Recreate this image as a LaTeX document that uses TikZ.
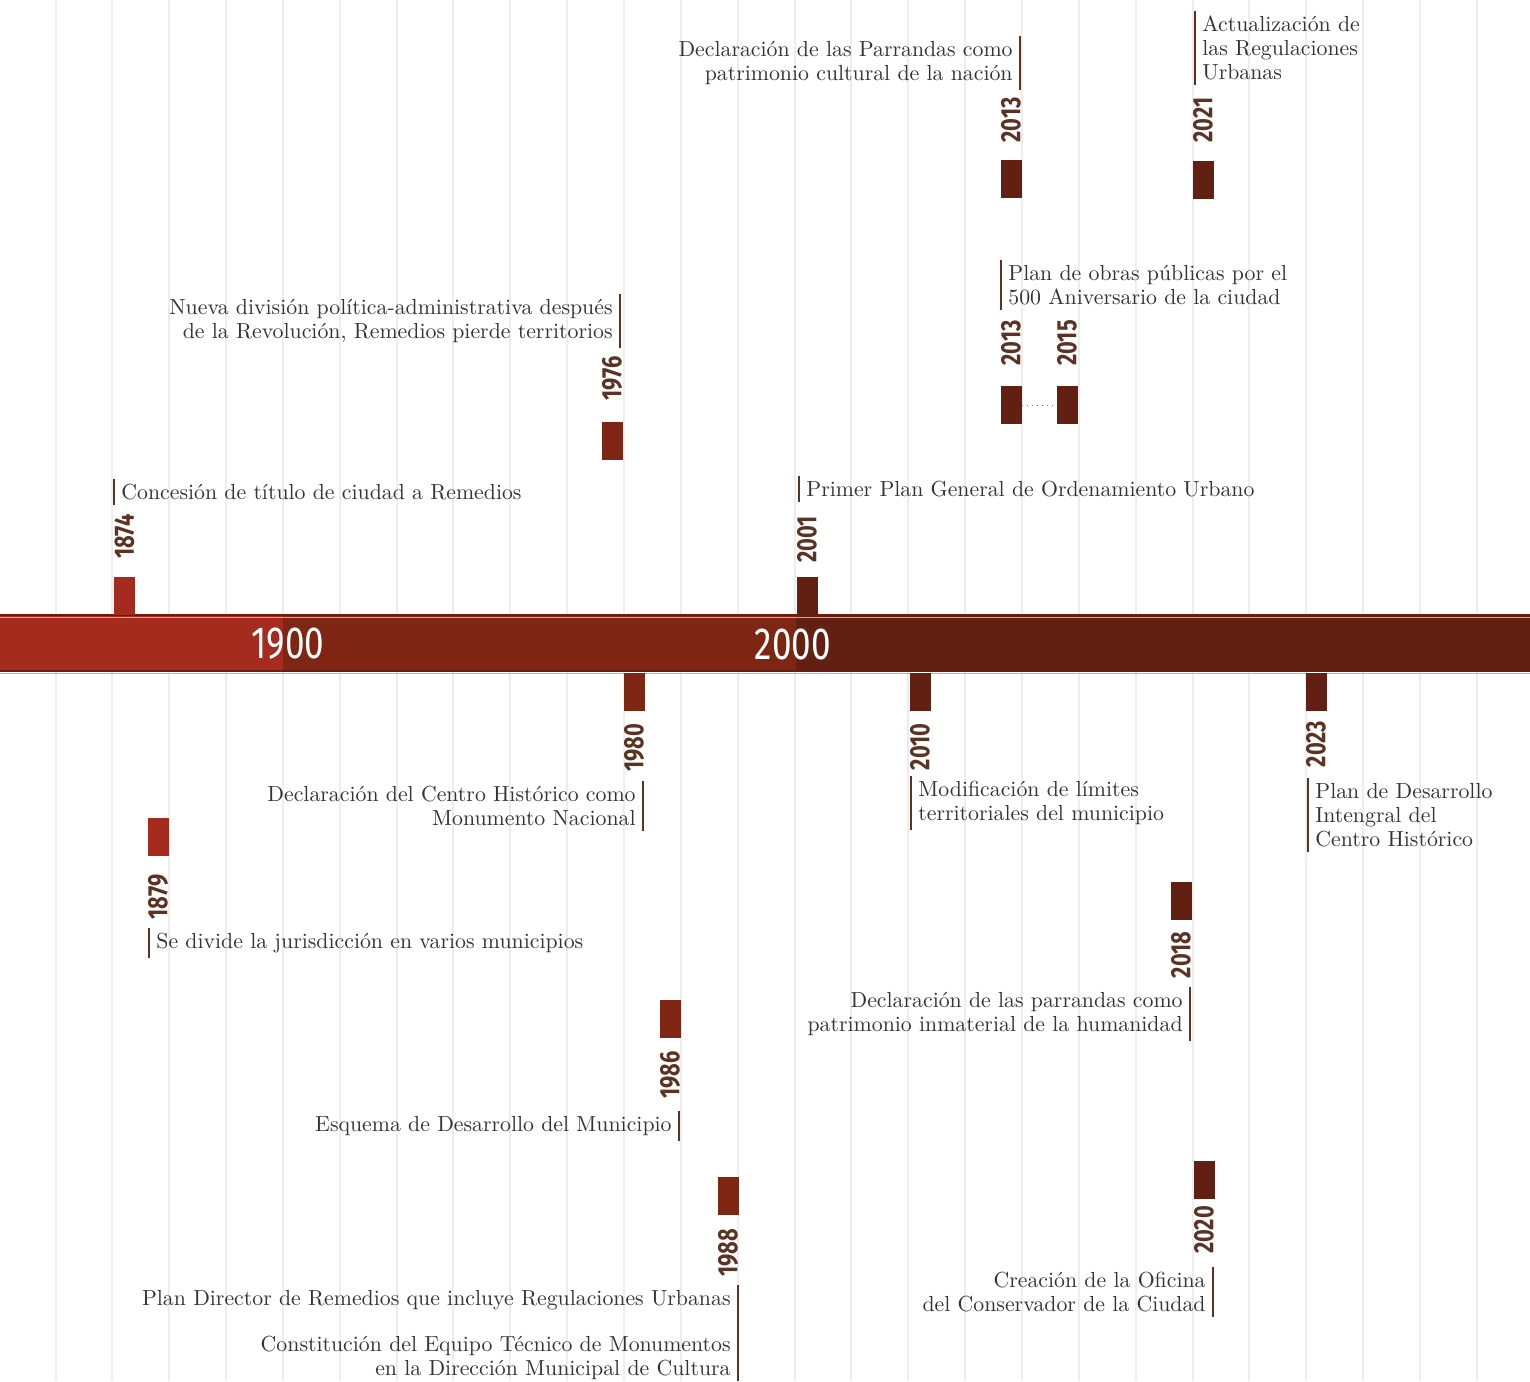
\documentclass[tikz,border=0pt]{standalone}
\usepackage{fontspec}
\usepackage{xcolor}
\usepackage{tikz}

\newfontfamily\yearfont[FakeStretch=0.78]{Fira Sans}

\definecolor{early}{HTML}{A42B1E}
\definecolor{middle}{HTML}{7F2513}
\definecolor{late}{HTML}{622013}
\definecolor{rim}{HTML}{6B1C10}
\definecolor{ink}{HTML}{333333}
\definecolor{lead}{HTML}{5A3323}
\definecolor{gridgray}{HTML}{EDEDED}

\begin{document}
\begin{tikzpicture}[x=0.5pt, y=-0.5pt,
		yearbox/.style={rectangle, inner sep=0pt, minimum width=10.5pt, minimum height=19pt},
		yearlbl/.style={rotate=90, inner sep=0pt, text=lead, font=\yearfont\bfseries\fontsize{14}{14}\selectfont},
		note/.style={inner xsep=3.5pt, inner ysep=2.5pt, text=ink, font=\fontsize{10.9}{12}\selectfont},
		noteL/.style={note, anchor=west, align=left},
		noteR/.style={note, anchor=east, align=right},
		leader/.style={draw=lead, line width=1.25pt},
		bigyear/.style={inner sep=0pt, text=white, font=\yearfont\fontsize{22.5}{22.5}\selectfont}
	]
		\useasboundingbox[fill=white] (0,0) rectangle (1530,1381);

		\foreach \k in {0,...,26} {
				\draw[gridgray, line width=1pt] (55.5+\k*56.85,0) -- (55.5+\k*56.85,1381);
			}

		% the bar
		\fill[early] (0,614) rectangle (283,672);
		\fill[middle] (283,614) rectangle (796,672);
		\fill[late] (796,614) rectangle (1530,672);
		\draw[rim, line width=1pt] (0,615) -- (1530,615);
		\draw[rim, line width=1pt] (0,671) -- (1530,671);
		\draw[gray!60, line width=0.4pt] (0,617) -- (1530,617);
		\draw[gray!60, line width=0.4pt] (0,673) -- (1530,673);

		\node[bigyear] (C1900) at (288,644) {1900};
		\node[bigyear] (C2000) at (793,644) {2000};

		% above the bar
		\node[yearbox, fill=early] (B1874) at (124.5,595.5) {};
		\node[yearlbl] (Y1874) at (124.5,536.5) {1874};
		\node[noteL] (N1874) at (114,492) {Concesión de título de ciudad a Remedios};
		\draw[leader] (N1874.north west) -- (N1874.south west);

		\node[yearbox, fill=middle] (B1976) at (612.5,441) {};
		\node[yearlbl] (Y1976) at (612,378.5) {1976};
		\node[noteR] (N1976) at (620,321) {Nueva división política-administrativa después\\de la Revolución, Remedios pierde territorios};
		\draw[leader] (N1976.north east) -- (N1976.south east);

		\node[yearbox, fill=late] (B2001) at (807.5,595.5) {};
		\node[yearlbl] (Y2001) at (807,539.5) {2001};
		\node[noteL] (N2001) at (799,489) {Primer Plan General de Ordenamiento Urbano};
		\draw[leader] (N2001.north west) -- (N2001.south west);

		\node[yearbox, fill=late] (B2013a) at (1011.5,179) {};
		\node[yearlbl] (Y2013a) at (1011,120) {2013};
		\node[noteR] (N2013a) at (1020,63) {Declaración de las Parrandas como\\patrimonio cultural de la nación};
		\draw[leader] (N2013a.north east) -- (N2013a.south east);

		\node[yearbox, fill=late] (B2021) at (1203.5,180) {};
		\node[yearlbl] (Y2021) at (1203,120) {2021};
		\node[noteL] (N2021) at (1195,48) {Actualización de\\las Regulaciones\\Urbanas};
		\draw[leader] (N2021.north west) -- (N2021.south west);

		\node[yearbox, fill=late] (B2013b) at (1011.5,405) {};
		\node[yearbox, fill=late] (B2015) at (1067.5,405) {};
		\node[yearlbl] (Y2013b) at (1011,343) {2013};
		\node[yearlbl] (Y2015) at (1067,343) {2015};
		\draw[lead!70, dotted, line width=0.5pt] (B2013b) -- (B2015);
		\node[noteL] (N2015) at (1001,285) {Plan de obras públicas por el\\500 Aniversario de la ciudad};
		\draw[leader] (N2015.north west) -- (N2015.south west);

		% below the bar
		\node[yearbox, fill=early] (B1879) at (158.5,837) {};
		\node[yearlbl] (Y1879) at (158,897) {1879};
		\node[noteL] (N1879) at (149,943) {Se divide la jurisdicción en varios municipios};
		\draw[leader] (N1879.north west) -- (N1879.south west);

		\node[yearbox, fill=middle] (B1980) at (634.5,691.5) {};
		\node[yearlbl] (Y1980) at (634,747.5) {1980};
		\node[noteR] (N1980) at (643,806) {Declaración del Centro Histórico como\\Monumento Nacional};
		\draw[leader] (N1980.north east) -- (N1980.south east);

		\node[yearbox, fill=middle] (B1986) at (670.5,1019) {};
		\node[yearlbl] (Y1986) at (670,1075) {1986};
		\node[noteR] (N1986) at (679,1126) {Esquema de Desarrollo del Municipio};
		\draw[leader] (N1986.north east) -- (N1986.south east);

		\node[yearbox, fill=middle] (B1988) at (728.5,1196) {};
		\node[yearlbl] (Y1988) at (728,1252.5) {1988};
		\node[noteR] (N1988a) at (738,1300) {Plan Director de Remedios que incluye Regulaciones Urbanas};
		\node[noteR] (N1988b) at (738,1358) {Constitución del Equipo Técnico de Monumentos\\en la Dirección Municipal de Cultura};
		\coordinate (floor) at (738,1381);
		\draw[leader] (N1988a.north east) -- (floor);

		\node[yearbox, fill=late] (B2010) at (920.5,691.5) {};
		\node[yearlbl] (Y2010) at (920,747) {2010};
		\node[noteL] (N2010) at (911,803) {Modificación de límites\\territoriales del municipio};
		\draw[leader] (N2010.north west) -- (N2010.south west);

		\node[yearbox, fill=late] (B2018) at (1181.5,901) {};
		\node[yearlbl] (Y2018) at (1181,955) {2018};
		\node[noteR] (N2018) at (1190,1014) {Declaración de las parrandas como\\patrimonio inmaterial de la humanidad};
		\draw[leader] (N2018.north east) -- (N2018.south east);

		\node[yearbox, fill=late] (B2020) at (1204.5,1180) {};
		\node[yearlbl] (Y2020) at (1204,1230) {2020};
		\node[noteR] (N2020) at (1213,1292) {Creación de la Oficina\\del Conservador de la Ciudad};
		\draw[leader] (N2020.north east) -- (N2020.south east);

		\node[yearbox, fill=late] (B2023) at (1316.5,691.5) {};
		\node[yearlbl] (Y2023) at (1316,744) {2023};
		\node[noteL] (N2023) at (1308,815) {Plan de Desarrollo\\Intengral del\\Centro Histórico};
		\draw[leader] (N2023.north west) -- (N2023.south west);
	\end{tikzpicture}
\end{document}
